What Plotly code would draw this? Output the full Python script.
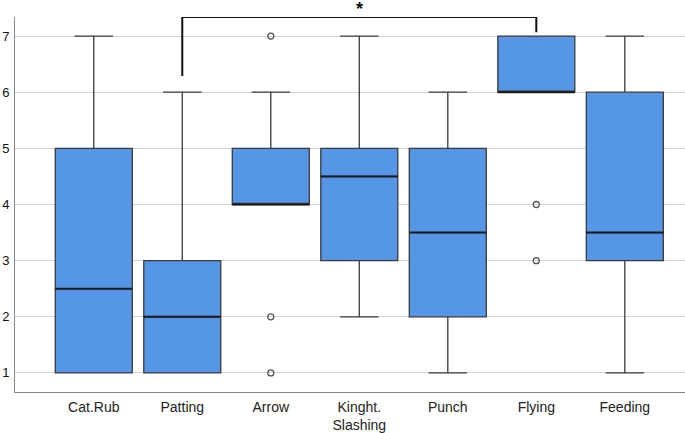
import plotly.graph_objects as go

categories = ["Cat.Rub", "Patting", "Arrow", "Kinght.<br>Slashing", "Punch", "Flying", "Feeding"]
lower_whisker = [1, 1, 4, 2, 1, 6, 1]
q1 = [1, 1, 4, 3, 2, 6, 3]
median = [2.5, 2, 4, 4.5, 3.5, 6, 3.5]
q3 = [5, 3, 5, 5, 5, 7, 6]
upper_whisker = [7, 6, 6, 7, 6, 7, 7]
outlier_cat = [2, 2, 2, 5, 5]
outlier_val = [7, 2, 1, 4, 3]
y_ticks = [1, 2, 3, 4, 5, 6, 7]
sig_pair = (1, 5)
sig_label = "<b>*</b>"

BOX_W = 0.87
fill = "#5596E6"
edge = "#3a3a3a"

fig = go.Figure()
for i, c in enumerate(categories):
    fig.add_trace(go.Box(
        x=[i], q1=[q1[i]], median=[median[i]], q3=[q3[i]],
        lowerfence=[lower_whisker[i]], upperfence=[upper_whisker[i]],
        boxpoints=False, width=BOX_W, whiskerwidth=0.5,
        fillcolor=fill, line=dict(color=edge, width=1.3),
        showlegend=False, hoverinfo="skip",
    ))
    # emphasised median line
    fig.add_trace(go.Scatter(
        x=[i - BOX_W / 2, i + BOX_W / 2], y=[median[i], median[i]],
        mode="lines", line=dict(color="#1a1a1a", width=2.0),
        showlegend=False, hoverinfo="skip",
    ))

fig.add_trace(go.Scatter(
    x=outlier_cat, y=outlier_val, mode="markers",
    marker=dict(symbol="circle-open", size=6, color="#555555", line=dict(width=1.3)),
    showlegend=False, hoverinfo="skip",
))

a, b = sig_pair
top = 7.34
fig.add_trace(go.Scatter(
    x=[a, a, b, b], y=[upper_whisker[a] + 0.29, top, top, upper_whisker[b] + 0.07],
    mode="lines", line=dict(color="#111111", width=2),
    cliponaxis=False, showlegend=False, hoverinfo="skip",
))
fig.add_annotation(x=(a + b) / 2, y=top, yref="y", text=sig_label, showarrow=False,
                   yshift=8, font=dict(size=18, color="#111111", family="Liberation Sans"))

fig.update_layout(
    width=685, height=433,
    margin=dict(l=15, r=0, t=17, b=41),
    paper_bgcolor="white", plot_bgcolor="white",
    font=dict(family="Liberation Sans, Arial, sans-serif", size=14, color="#222222"),
    xaxis=dict(
        range=[-0.89, 6.68], tickvals=list(range(len(categories))), ticktext=categories,
        showgrid=False, zeroline=False, showline=True, linecolor="#888888", linewidth=1,
        ticks="", ticklabelstandoff=2, tickfont=dict(size=14, color="#222222"), automargin=False,
    ),
    yaxis=dict(
        range=[0.66, 7.34], tickvals=y_ticks, showgrid=True, gridcolor="#d4d4d4", gridwidth=1,
        zeroline=False, showline=True, linecolor="#888888", linewidth=1,
        ticks="", ticklabelstandoff=2, tickfont=dict(size=13, color="#111111"), automargin=False,
    ),
)

fig.write_html("out.html", config={"displayModeBar": False},
               post_script="document.body.style.margin='0';document.body.style.overflow='hidden';")
